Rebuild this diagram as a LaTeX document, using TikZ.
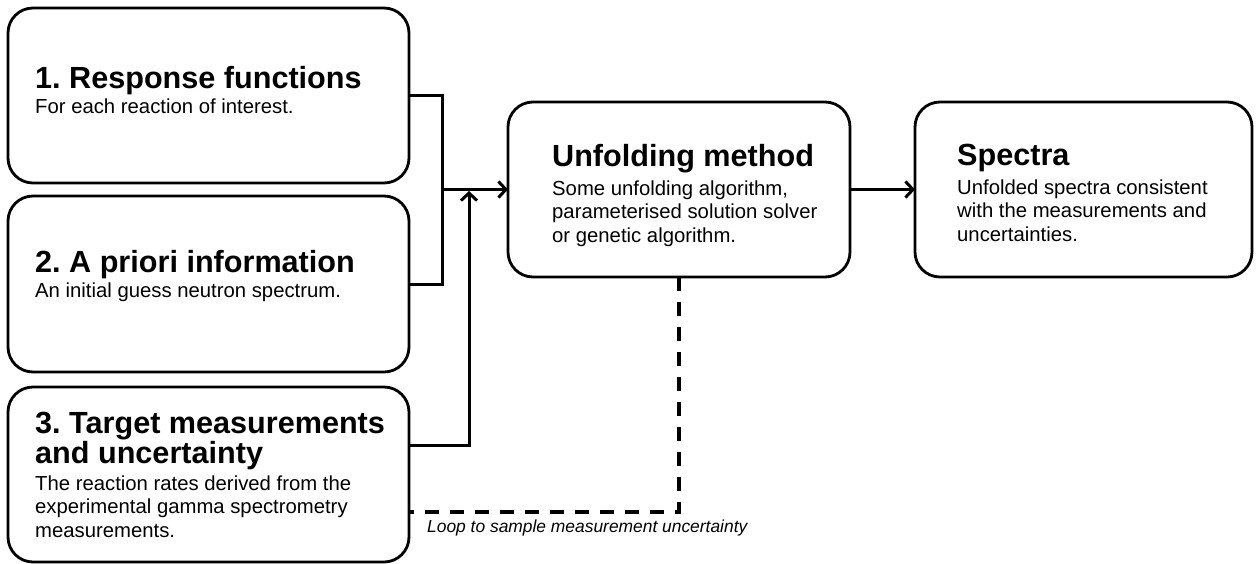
\documentclass[tikz,border=0pt]{standalone}
\usepackage{fontspec}
\setmainfont{Liberation Sans}
\usetikzlibrary{arrows.meta}
\begin{document}
\frenchspacing
\begin{tikzpicture}[x=1pt,y=-1pt,
  box/.style={draw=black, line width=2.8pt, rounded corners=25pt, inner sep=0pt, outer sep=0pt, anchor=north west},
  ttl/.style={anchor=base west, inner sep=0pt, font=\bfseries\fontsize{30.6}{30}\selectfont},
  bdy/.style={anchor=north west, inner sep=0pt, align=left, font=\fontsize{20.3}{23.5}\selectfont},
  conn/.style={draw=black, line width=3pt},
  arr/.style={conn, -{Straight Barb[length=7.5pt,width=16pt]}},
  dashline/.style={draw=black, line width=3.8pt, dash pattern=on 14pt off 11pt},
  lbl/.style={anchor=base west, inner sep=0pt, font=\itshape\fontsize{17.4}{20}\selectfont}]
\useasboundingbox (0,0) rectangle (1258,563);
% boxes
\node[box, minimum width=401pt, minimum height=175pt] (b1) at (8,8) {};
\node[box, minimum width=401pt, minimum height=176pt] (b2) at (8,196) {};
\node[box, minimum width=401pt, minimum height=175pt] (b3) at (8,387) {};
\node[box, minimum width=342pt, minimum height=175pt] (mid) at (508,102) {};
\node[box, minimum width=337pt, minimum height=175pt] (spec) at (915,102) {};
% texts
\node[ttl] (t1) at (35,88) {1. Response functions};
\node[bdy] (d1) at (35,96.5) {\strut For each reaction of interest.};
\node[ttl] (t2) at (35,272) {2. A priori information};
\node[bdy] (d2) at (35,280.5) {\strut An initial guess neutron spectrum.};
\node[ttl] (t3a) at (35,433) {3. Target measurements};
\node[ttl] (t3b) at (35,463) {and uncertainty};
\node[bdy] (d3) at (35,473.5) {\strut The reaction rates derived from the\\experimental gamma spectrometry\\measurements.};
\node[ttl] (tm) at (552,166) {Unfolding method};
\node[bdy] (dm) at (552,178.5) {\strut Some unfolding algorithm,\\parameterised solution solver\\or genetic algorithm.};
\node[ttl] (ts) at (957,165) {Spectra};
\node[bdy] (ds) at (957,177.5) {\strut Unfolded spectra consistent\\with the measurements and\\uncertainties.};
% connectors
\coordinate (jx) at (442,0);
\coordinate (up) at (469,191);
\draw[conn] (b1.east) -| (jx |- b2.east) -- (b2.east);
\draw[arr] (jx |- mid.west) -- (mid.west);
\draw[arr] ([yshift=29.5pt]b3.east) -| (up);
\draw[arr] (mid.east) -- (spec.west);
\draw[dashline] (mid.south) |- ([yshift=-37.5pt]b3.east);
\node[lbl] (loop) at (427,532) {Loop to sample measurement uncertainty};
\end{tikzpicture}
\end{document}
